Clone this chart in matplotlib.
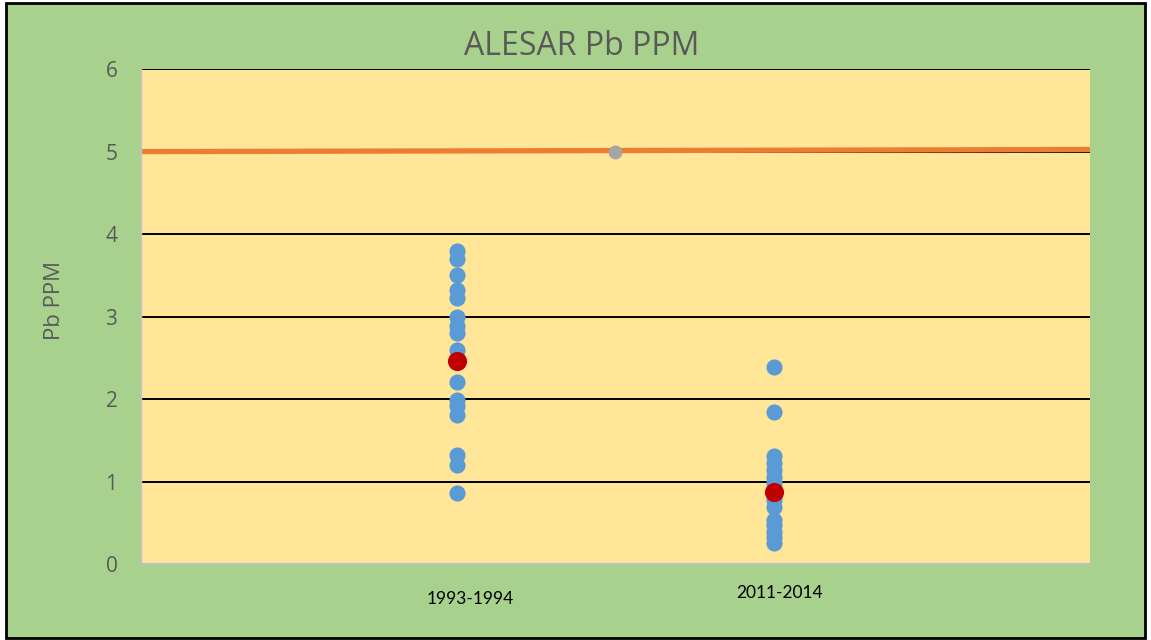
import matplotlib.pyplot as plt
from matplotlib.patches import Rectangle
from matplotlib.transforms import blended_transform_factory

# data
periods = ["1993-1994", "2011-2014"]
period_x = [2, 4]
pb_1993 = [3.79, 3.70, 3.50, 3.32, 3.22, 2.99, 2.88, 2.80, 2.60,
           2.21, 1.99, 1.91, 1.81, 1.32, 1.20, 0.86]
pb_2011 = [2.39, 1.84, 1.31, 1.22, 1.14, 1.06, 0.98, 0.78, 0.69,
           0.53, 0.47, 0.39, 0.33, 0.26]
pb_mean = [2.46, 0.87]
limit_x = [0, 6]
limit_y = [5.0, 5.025]
limit_point = (3, 5.0)
yticks = [0, 1, 2, 3, 4, 5, 6]

plt.rcParams['font.family'] = ['Open Sans', 'DejaVu Sans']

fig = plt.figure(figsize=(11.51, 6.4), dpi=100)
fig.patch.set_facecolor("white")
fig.patches.append(Rectangle((0.005, 0.003), 0.99, 0.993, transform=fig.transFigure,
                             facecolor="#a9d18e", edgecolor="black", linewidth=2, zorder=-1))

ax = fig.add_axes([0.1225, 0.11875, 0.8245, 0.77325])
ax.set_facecolor("#ffe699")
ax.set_xlim(0, 6)
ax.set_ylim(0, 6)

for y in yticks[1:]:
    ax.axhline(y, color="black", linewidth=1.4, zorder=1)

ax.plot(limit_x, limit_y, color="#ed7d31", linewidth=3.8, zorder=2)

ax.scatter([period_x[0]] * len(pb_1993), pb_1993, s=135, color="#5b9bd5", zorder=3, linewidths=0)
ax.scatter([period_x[1]] * len(pb_2011), pb_2011, s=135, color="#5b9bd5", zorder=3, linewidths=0)
ax.scatter([limit_point[0]], [limit_point[1]], s=100, color="#a5a5a5", zorder=3, linewidths=0)
ax.scatter(period_x, pb_mean, s=190, color="#c00000", zorder=4, linewidths=0)

for side in ["top", "right"]:
    ax.spines[side].set_visible(False)
ax.spines["bottom"].set_color("#bfbfbf")
ax.spines["bottom"].set_linewidth(1.5)
ax.spines["left"].set_color("#c9c0d3")
ax.spines["left"].set_linewidth(1)

ax.set_yticks(yticks)
ax.set_xticks([])
ax.tick_params(axis="y", length=0, pad=17, labelsize=15, labelcolor="#595959")
fig.text(0.047, 0.531, "Pb PPM", rotation=90, ha="center", va="center", fontsize=16, color="#595959")

trans = blended_transform_factory(ax.transData, ax.transAxes)
ax.text(2.08, -0.07, periods[0], transform=trans, ha="center", va="center",
        fontsize=12.5, color="black", family=["Lato", "DejaVu Sans"])
ax.text(4.04, -0.058, periods[1], transform=trans, ha="center", va="center",
        fontsize=12.5, color="black", family=["Lato", "DejaVu Sans"])

fig.text(0.505, 0.927, "ALESAR Pb PPM", ha="center", va="center", fontsize=23, color="#595959")

plt.savefig("out.png", dpi=100, facecolor=fig.get_facecolor())
